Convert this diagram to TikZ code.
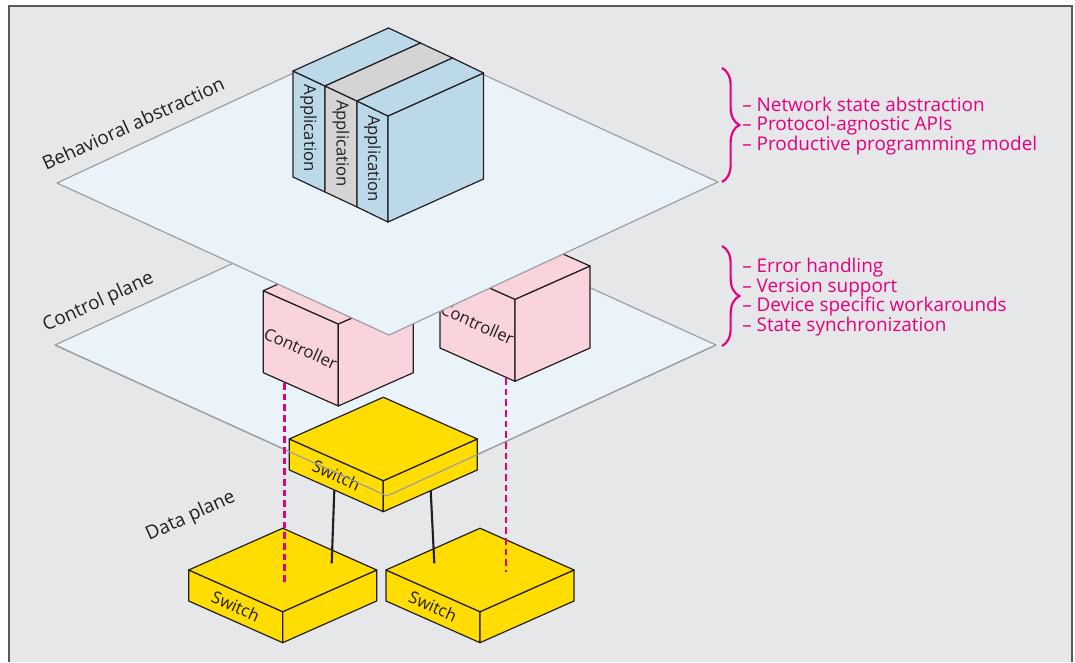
\documentclass[tikz,border=0pt]{standalone}
\usepackage{fontspec}
\setmainfont{Open Sans}
\usetikzlibrary{decorations.pathreplacing}
\definecolor{bgc}{HTML}{E6E7E8}
\definecolor{framec}{HTML}{58595B}
\definecolor{planec}{HTML}{EBF3FA}
\definecolor{edgec}{HTML}{9D9FA2}
\definecolor{inkc}{HTML}{231F20}
\definecolor{appc}{HTML}{BCD9EA}
\definecolor{slabc}{HTML}{D4D4D5}
\definecolor{ctrlc}{HTML}{F9D4DC}
\definecolor{swc}{HTML}{FFDD00}
\definecolor{accc}{HTML}{E6007E}
\tikzset{plane/.style={fill=planec,draw=edgec,line width=0.9pt,line join=round},
	 face/.style={draw=inkc,line width=0.9pt,line join=round},
	 boxtext/.style={rotate=-24,inner sep=0pt,text=inkc,font=\fontsize{12.5}{14}\selectfont},
	 apptext/.style={rotate=-90,inner sep=0pt,text=inkc,font=\fontsize{12.5}{14}\selectfont},
	 layer/.style={rotate=24.5,anchor=base west,inner sep=0pt,text=inkc,font=\fontsize{14.2}{16}\selectfont},
	 item/.style={anchor=base west,inner sep=0pt,text=accc,font=\fontsize{14.2}{16}\selectfont},
	 link/.style={draw=inkc,line width=1.6pt},
	 ctrl/.style={draw=accc,line width=2pt,dash pattern=on 5pt off 3pt},
	 curly/.style={draw=accc,line width=1.6pt,decorate,decoration={brace,amplitude=13pt}}
	 }
% box seen from the front corner: style, x, y (front top corner), half width, height, name, text
\newcommand{\isobox}[7]{%
	\filldraw[face,#1] (#2,#3) -- ++(-#4,{-0.444*#4}) -- ++(0,#5) -- ++(#4,{0.444*#4}) -- cycle;
	\filldraw[face,#1] (#2,#3) -- ++(#4,{-0.444*#4}) -- ++(0,#5) -- ++(-#4,{0.444*#4}) -- cycle;
	\filldraw[face,#1] (#2,#3) -- ++(-#4,{-0.444*#4}) -- ++(#4,{-0.444*#4}) -- ++(#4,{0.444*#4}) -- cycle;
	\node[boxtext] (#6) at ({#2-#4/2},{#3-0.222*#4+#5/2}) {#7};}

\begin{document}
\begin{tikzpicture}[x=0.75pt,y=-0.75pt]
	\useasboundingbox (0,0) rectangle (1075,662);
	\fill[white] (0,0) rectangle (1075,662);
	\fill[bgc] (9,6) rectangle (1072,662);
	\draw[framec,line width=1.1pt] (9,662) -- (9,6) -- (1072,6) -- (1072,662);
	% control plane
	\coordinate (cpl) at (55,345); \coordinate (cpt) at (384,194);
	\coordinate (cpr) at (716,345); \coordinate (cpb) at (387,496);
	\filldraw[plane] (cpl) -- (cpt) -- (cpr) -- (cpb) -- cycle;
	\isobox{fill=ctrlc}{338.3}{324}{75}{82}{c1}{Controller}
	\isobox{fill=ctrlc}{515}{299.3}{75}{82}{c2}{Controller}
	% behavioral abstraction plane
	\coordinate (bpl) at (57,183); \coordinate (bpt) at (386,30);
	\coordinate (bpr) at (718,182); \coordinate (bpb) at (389,335);
	\filldraw[plane] (bpl) -- (bpt) -- (bpr) -- (bpb) -- cycle;
	% application block
	\filldraw[face,fill=appc] (293,71) -- (325,86) -- (325,192) -- (293,177) -- cycle;
	\filldraw[face,fill=slabc] (325,86) -- (357,101) -- (357,207) -- (325,192) -- cycle;
	\filldraw[face,fill=appc] (357,101) -- (388,116) -- (388,222) -- (357,207) -- cycle;
	\filldraw[face,fill=appc] (388,116) -- (483.5,73) -- (483.5,179) -- (388,222) -- cycle;
	\filldraw[face,fill=appc] (293,71) -- (388.5,28) -- (420.5,43) -- (325,86) -- cycle;
	\filldraw[face,fill=slabc] (325,86) -- (420.5,43) -- (452.5,58) -- (357,101) -- cycle;
	\filldraw[face,fill=appc] (357,101) -- (452.5,58) -- (483.5,73) -- (388,116) -- cycle;
	\node[apptext] (a1) at (308.5,128) {Application};
	\node[apptext] (a2) at (341,143.5) {Application};
	\node[apptext] (a3) at (372.5,158.5) {Application};
	% switches
	\isobox{fill=swc}{383.3}{480.7}{94}{31}{s0}{Switch}
	\isobox{fill=swc}{282.7}{611.7}{94}{31}{s1}{Switch}
	\isobox{fill=swc}{480}{611.7}{94}{31}{s2}{Switch}
	\draw[edgec,line width=0.9pt,line join=round] (cpl) -- (cpb) -- (cpr);
	% links
	\coordinate (s0a) at (334.3,490.5); \coordinate (s1a) at (331.7,563.3);
	\coordinate (s0b) at (430.7,490.5); \coordinate (s2a) at (434.3,563.3);
	\draw[link] (s0a) -- (s1a); \draw[link] (s0b) -- (s2a);
	\coordinate (c1a) at (284.3,383); \coordinate (s1b) at (284.3,582.7);
	\coordinate (c2a) at (506,378); \coordinate (s2b) at (506,571.7);
	\draw[ctrl] (c1a) -- (s1b); \draw[ctrl] (c2a) -- (s2b);
	% layer names
	\node[layer] (lb) at (46,171) {Behavioral abstraction};
	\node[layer] (lc) at (46,332) {Control plane};
	\node[layer] (ld) at (149,541) {Data plane};
	% properties
	\coordinate (b1t) at (722,68); \coordinate (b1b) at (722,182);
	\coordinate (b2t) at (722,246); \coordinate (b2b) at (722,346);
	\draw[curly] (b1t) -- (b1b); \draw[curly] (b2t) -- (b2b);
	\foreach \t [count=\i] in {Network state abstraction,Protocol-agnostic APIs,Productive programming model}
		\node[item] (p\i) at (742,{111+19.5*(\i-1)}) {– \t};
	\foreach \t [count=\i] in {Error handling,Version support,Device specific workarounds,State synchronization}
		\node[item] (q\i) at (742,{272.5+19.6*(\i-1)}) {– \t};
\end{tikzpicture}
\end{document}
